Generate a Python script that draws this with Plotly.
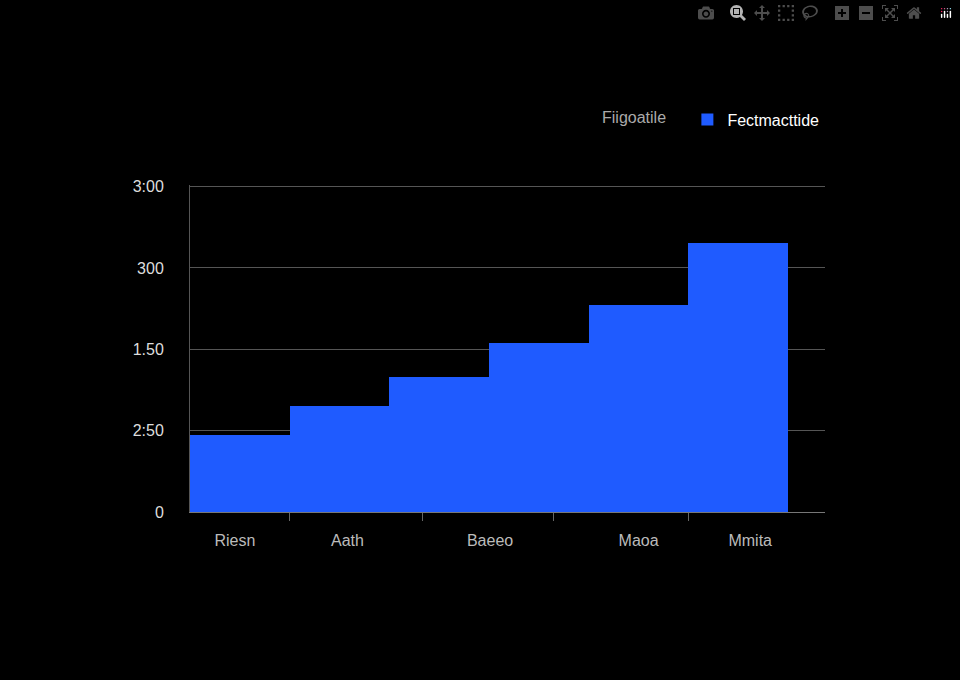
import plotly.graph_objects as go

steps = [0, 1, 2, 3, 4, 5]
values = [0.95, 1.30, 1.66, 2.08, 2.55, 3.31]
ytick_vals = [0, 1, 2, 3, 4]
ytick_text = ["0", "2:50", "1.50", "300", "3:00"]
xlabel_pos = [-0.05, 1.08, 2.51, 4.0, 5.12]
xlabels = ["Riesn", "Aath", "Baeeo", "Maoa", "Mmita"]
xminor = [0.5, 1.83, 3.15, 4.5]

fig = go.Figure()
fig.add_trace(go.Bar(x=steps, y=values, width=1, name="Fectmacttide",
                     marker=dict(color="#1f5bff", line=dict(width=0))))
fig.add_trace(go.Scatter(x=xminor, y=[0]*4, xaxis="x2", mode="markers",
                         marker=dict(opacity=0), showlegend=False, hoverinfo="skip"))
fig.update_layout(
    width=960, height=680, paper_bgcolor="black", plot_bgcolor="black",
    margin=dict(l=190, r=135, t=185, b=168), bargap=0,
    font=dict(family="Liberation Sans", color="#cccccc", size=16),
    showlegend=True,
    legend=dict(orientation="h", x=1, xanchor="right", y=1.2, yanchor="middle",
                title=dict(text="Fiigoatile   ", font=dict(color="#aaaaaa", size=16), side="left"),
                font=dict(color="white", size=16)),
    xaxis=dict(range=[-0.5, 5.87], tickvals=xlabel_pos, ticktext=xlabels,
               showgrid=False, zeroline=False, showline=True, linecolor="#777777",
               ticks="", tickfont=dict(color="#bbbbbb", size=16), ticklabelstandoff=14),
    xaxis2=dict(range=[-0.5, 5.87], overlaying="x", side="bottom", anchor="y",
                tickvals=xminor, showticklabels=False, ticks="outside",
                ticklen=8, tickcolor="#666666", showgrid=False, zeroline=False),
    yaxis=dict(range=[0, 4.02], tickvals=ytick_vals, ticktext=ytick_text,
               showgrid=True, gridcolor="#555555", zeroline=False,
               showline=True, linecolor="#555555", ticks="",
               tickfont=dict(color="#dddddd", size=16), ticklabelstandoff=22),
)
fig.write_html("out.html", post_script="document.body.style.margin='0';document.body.style.background='black';document.body.style.overflow='hidden';")
